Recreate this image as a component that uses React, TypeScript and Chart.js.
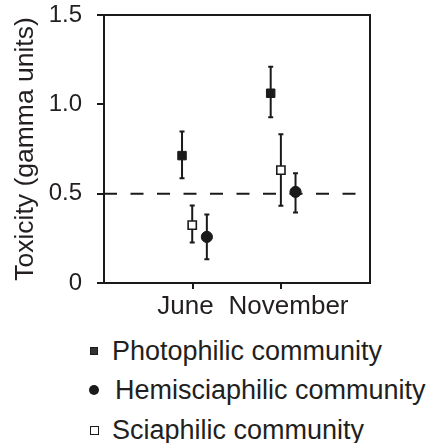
import React, { useEffect, useRef } from 'react';
import { Chart, registerables } from 'chart.js';

Chart.register(...registerables);

const months = ['June', 'November'];
const monthLabels = ['June  ', '  November'];
const yTickValues = [0, 0.5, 1.0, 1.5];
const referenceLevel = 0.5;

const photophilicMean = [0.713, 1.062];
const photophilicLow = [0.586, 0.928];
const photophilicHigh = [0.848, 1.211];

const hemisciaphilicMean = [0.258, 0.51];
const hemisciaphilicLow = [0.133, 0.395];
const hemisciaphilicHigh = [0.383, 0.614];

const sciaphilicMean = [0.324, 0.632];
const sciaphilicLow = [0.226, 0.432];
const sciaphilicHigh = [0.434, 0.832];

const legendLabels = ['Photophilic community', 'Hemisciaphilic community', 'Sciaphilic community'];

const INK = '#1a1a1a';
const TEXT = '#231f20';
const FONT = "'Liberation Sans', Arial, Helvetica, sans-serif";

function points(mean: number[], low: number[], high: number[], offset: number) {
  return mean.map((m, i) => ({ x: i + 1 + offset, y: m, low: low[i], high: high[i] }));
}

const errorBarPlugin = {
  id: 'errorBars',
  beforeDatasetsDraw(chart: any) {
    const { ctx, scales } = chart;
    const xs = scales.x;
    const ys = scales.y;
    ctx.save();
    ctx.strokeStyle = INK;
    ctx.lineWidth = 2;
    chart.data.datasets.forEach((ds: any) => {
      if (!ds.errorBars) return;
      ds.data.forEach((p: any) => {
        const px = xs.getPixelForValue(p.x);
        const yl = ys.getPixelForValue(p.low);
        const yh = ys.getPixelForValue(p.high);
        ctx.beginPath();
        ctx.moveTo(px, yl);
        ctx.lineTo(px, yh);
        ctx.moveTo(px - 2.5, yl);
        ctx.lineTo(px + 2.5, yl);
        ctx.moveTo(px - 2.5, yh);
        ctx.lineTo(px + 2.5, yh);
        ctx.stroke();
      });
    });
    ctx.restore();
  },
};

const boxPlugin = {
  id: 'plotBox',
  afterDatasetsDraw(chart: any) {
    const { ctx, chartArea } = chart;
    ctx.save();
    ctx.strokeStyle = INK;
    ctx.lineWidth = 2;
    ctx.strokeRect(chartArea.left, chartArea.top, chartArea.right - chartArea.left, chartArea.bottom - chartArea.top);
    ctx.restore();
  },
};

function ChartCanvas() {
  const ref = useRef<HTMLCanvasElement | null>(null);
  useEffect(() => {
    if (!ref.current) return;
    const chart = new Chart(ref.current, {
      type: 'scatter',
      data: {
        datasets: [
          {
            type: 'line',
            label: 'reference',
            data: [
              { x: 0, y: referenceLevel },
              { x: 2.84, y: referenceLevel },
            ],
            borderColor: INK,
            borderWidth: 2,
            borderDash: [13, 13.5],
            pointRadius: 0,
            fill: false,
          } as any,
          {
            label: legendLabels[0],
            data: points(photophilicMean, photophilicLow, photophilicHigh, -0.12),
            errorBars: true,
            pointStyle: 'rect',
            pointRadius: 6,
            backgroundColor: INK,
            borderColor: INK,
            borderWidth: 1,
          } as any,
          {
            label: legendLabels[1],
            data: points(hemisciaphilicMean, hemisciaphilicLow, hemisciaphilicHigh, 0.16),
            errorBars: true,
            pointStyle: 'circle',
            pointRadius: 5.6,
            backgroundColor: INK,
            borderColor: INK,
            borderWidth: 1,
          } as any,
          {
            label: legendLabels[2],
            data: points(sciaphilicMean, sciaphilicLow, sciaphilicHigh, -0.005),
            errorBars: true,
            pointStyle: 'rect',
            pointRadius: 5.8,
            backgroundColor: '#ffffff',
            borderColor: INK,
            borderWidth: 1.6,
          } as any,
        ],
      },
      options: {
        animation: false,
        responsive: false,
        devicePixelRatio: 1,
        layout: { padding: { top: 0, right: 57, left: 0, bottom: 0 } },
        plugins: { legend: { display: false }, tooltip: { enabled: false } },
        scales: {
          x: {
            type: 'linear',
            min: 0,
            max: 3,
            afterBuildTicks: (axis: any) => {
              axis.ticks = months.map((_, i) => ({ value: i + 1 }));
            },
            afterFit: (axis: any) => {
              axis.height = 39;
            },
            ticks: {
              autoSkip: false,
              maxRotation: 0,
              padding: 2,
              color: TEXT,
              font: { family: FONT, size: 26 },
              callback: (v: any) => monthLabels[Math.round(v) - 1] ?? '',
            },
            grid: {
              drawOnChartArea: false,
              drawTicks: true,
              tickLength: 6,
              color: INK,
              lineWidth: 2,
            },
            border: { display: false },
          },
          y: {
            type: 'linear',
            min: 0,
            max: 1.5,
            afterBuildTicks: (axis: any) => {
              axis.ticks = yTickValues.map((v) => ({ value: v }));
            },
            afterFit: (axis: any) => {
              axis.width = 104;
              axis.paddingTop = 15;
              axis.paddingBottom = 0;
            },
            ticks: {
              padding: 15,
              color: TEXT,
              font: { family: FONT, size: 24 },
              callback: (v: any) => (v === 0 ? '0' : Number(v).toFixed(1)),
            },
            grid: {
              drawOnChartArea: false,
              drawTicks: true,
              tickLength: 7,
              color: INK,
              lineWidth: 2,
            },
            border: { display: false },
            title: {
              display: true,
              text: 'Toxicity (gamma units)',
              color: TEXT,
              font: { family: FONT, size: 26.5 },
              padding: { top: 10, bottom: 0 },
            },
          },
        },
      } as any,
      plugins: [errorBarPlugin, boxPlugin],
    });
    return () => chart.destroy();
  }, []);
  return <canvas ref={ref} width={427} height={322} style={{ display: 'block' }} />;
}

function LegendMarker({ kind }: { kind: number }) {
  if (kind === 0) {
    return <span style={{ position: 'absolute', left: 90, top: -4.5, width: 6, height: 6, background: '#333', border: `1.5px solid ${INK}` }} />;
  }
  if (kind === 1) {
    return <span style={{ position: 'absolute', left: 89, top: -5, width: 10, height: 10, borderRadius: '50%', background: INK }} />;
  }
  return <span style={{ position: 'absolute', left: 90, top: -4.5, width: 7, height: 7, background: '#fff', border: `1.5px solid ${INK}` }} />;
}

const legendRowCenters = [351, 390, 430];
const legendTextLeft = [112, 115, 112];

export default function App() {
  return (
    <div style={{ position: 'absolute', left: 0, top: 0, width: 427, height: 443, background: '#fff', overflow: 'hidden' }}>
      <ChartCanvas />
      {legendLabels.map((label, i) => (
        <div key={label} style={{ position: 'absolute', left: 0, top: legendRowCenters[i], width: 427, height: 0 }}>
          <LegendMarker kind={i} />
          <span
            style={{
              position: 'absolute',
              left: legendTextLeft[i],
              top: -13.5,
              fontFamily: FONT,
              fontSize: 27,
              lineHeight: '27px',
              color: TEXT,
              whiteSpace: 'nowrap',
            }}
          >
            {label}
          </span>
        </div>
      ))}
    </div>
  );
}
